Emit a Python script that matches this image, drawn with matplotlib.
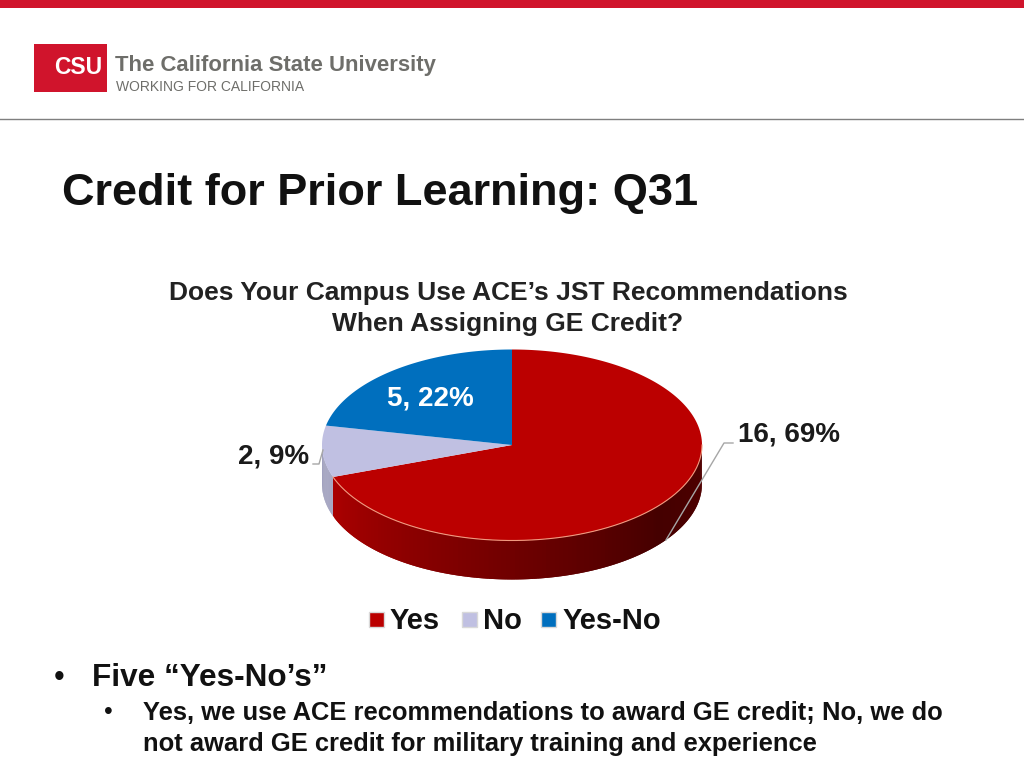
"""Credit for Prior Learning slide: Q31 pie chart on a CSU slide layout."""

import matplotlib
matplotlib.use("Agg")
import matplotlib.pyplot as plt
import numpy as np
from matplotlib.patches import Rectangle

categories = ["Yes", "No", "Yes-No"]
counts = [16, 2, 5]
percent_labels = ["69%", "9%", "22%"]

chart_title = ["Does Your Campus Use ACE’s JST Recommendations", "When Assigning GE Credit?"]
slide_title = "Credit for Prior Learning: Q31"
bullet_main = "Five “Yes-No’s”"
bullet_sub = [
    "Yes, we use ACE recommendations to award GE credit; No, we do",
    "not award GE credit for military training and experience",
]

TOP_COLORS = ["#bb0000", "#c0c0e2", "#006fbe"]
RED = "#d0142c"
GREY = "#6e6e6a"

# pie geometry in slide pixels
CX, CY = 512, 445
RX, RY = 190, 95.5
DEPTH = 39

plt.rcParams["font.family"] = ["Liberation Sans", "DejaVu Sans"]


def ellipse_xy(theta):
    """theta is clockwise from 12 o'clock, radians."""
    return CX + RX * np.sin(theta), CY - RY * np.cos(theta)


def side_color(deg):
    """Shade for the red wall: darkest right of the front, lighter to the left."""
    t = np.clip((deg - 130) / (250 - 130), 0, 1)
    if deg < 130:
        t = (130 - deg) / 40 * 0.12
    return (0.27 + 0.40 * t, 0, 0)


def draw_pie(ax):
    fractions = np.array(counts) / sum(counts)
    edges = np.concatenate([[0], np.cumsum(fractions)]) * 2 * np.pi

    # --- side wall, painted as thin overlapping strips so it can carry a gradient ---
    for i in range(len(counts)):
        start, stop = max(edges[i], np.pi / 2), min(edges[i + 1], 1.5 * np.pi)
        if stop <= start:
            continue
        steps = np.linspace(start, stop, 120)
        for a, b, c in zip(steps[:-2], steps[1:-1], steps[2:]):
            xa, ya = ellipse_xy(a)
            xc, yc = ellipse_xy(c)
            shade = side_color(np.degrees(b)) if i == 0 else (0.63, 0.63, 0.75)
            ax.fill([xa, xc, xc, xa], [ya, yc, yc + DEPTH, ya + DEPTH],
                    color=shade, lw=0, zorder=2)

    # --- top face ---
    for i, color in enumerate(TOP_COLORS):
        theta = np.linspace(edges[i], edges[i + 1], 200)
        x, y = ellipse_xy(theta)
        ax.fill(np.r_[CX, x], np.r_[CY, y], color=color, lw=0, zorder=3)

    # thin pale rim along the front of the red slice
    theta = np.linspace(np.pi / 2, edges[1], 200)
    x, y = ellipse_xy(theta)
    ax.plot(x, y, color="#f09a80", lw=0.8, zorder=4)

    # --- data labels ---
    ax.text(430, 399, f"{counts[2]}, {percent_labels[2]}", color="white", fontsize=20,
            fontweight="bold", ha="center", va="center", zorder=5)
    ax.text(789, 435, f"{counts[0]}, {percent_labels[0]}", color="#1a1a1a", fontsize=20,
            fontweight="bold", ha="center", va="center")
    ax.text(274, 457, f"{counts[1]}, {percent_labels[1]}", color="#1a1a1a", fontsize=20,
            fontweight="bold", ha="center", va="center")

    # leader lines
    ax.plot([733, 724, 666], [443, 443, 540], color="#a6a6a6", lw=1, zorder=5)
    ax.plot([313, 319, 323], [464, 464, 450], color="#a6a6a6", lw=1, zorder=5)


def draw_legend(ax):
    swatch_x = [369, 462, 541]
    text_x = [390, 483, 563]
    for sx, tx, name, color in zip(swatch_x, text_x, categories, TOP_COLORS):
        ax.add_patch(Rectangle((sx, 612), 15, 15, facecolor=color, edgecolor="#d9d9d9", lw=1))
        ax.text(tx, 621, name, fontsize=21, fontweight="bold", color="#111111",
                ha="left", va="center")


def draw_header(ax):
    ax.add_patch(Rectangle((0, 0), 1024, 8, facecolor=RED, lw=0))
    ax.plot([0, 1024], [119, 119], color="#7f7f7f", lw=1)

    # logo
    ax.add_patch(Rectangle((34, 44), 73, 48, facecolor=RED, lw=0))
    ax.text(102, 68, "CSU", color="white", fontsize=16.5, fontweight="bold",
            ha="right", va="center")
    ax.text(115, 66, "The California State University", color=GREY, fontsize=15.9,
            fontweight="bold", ha="left", va="center")
    ax.text(116, 87, "WORKING FOR CALIFORNIA", color=GREY, fontsize=10,
            ha="left", va="center")


def main():
    fig = plt.figure(figsize=(10.24, 7.68), dpi=100)
    ax = fig.add_axes([0, 0, 1, 1])
    ax.set_xlim(0, 1024)
    ax.set_ylim(768, 0)
    ax.axis("off")

    draw_header(ax)

    ax.text(62, 193, slide_title, fontsize=32.5, fontweight="bold", color="#111111",
            ha="left", va="center")
    ax.text(508, 293, chart_title[0], fontsize=19, fontweight="bold", color="#222222",
            ha="center", va="center")
    ax.text(508, 324, chart_title[1], fontsize=19, fontweight="bold", color="#222222",
            ha="center", va="center")

    draw_pie(ax)
    draw_legend(ax)

    # bullets
    ax.text(54, 678, "•", fontsize=22, color="#111111", ha="left", va="center")
    ax.text(92, 678, bullet_main, fontsize=22.7, fontweight="bold", color="#111111",
            ha="left", va="center")
    ax.text(104, 712, "•", fontsize=18, color="#111111", ha="left", va="center")
    ax.text(143, 713, bullet_sub[0], fontsize=18.35, fontweight="bold", color="#111111",
            ha="left", va="center")
    ax.text(143, 744, bullet_sub[1], fontsize=18.35, fontweight="bold", color="#111111",
            ha="left", va="center")

    fig.savefig("out.png", dpi=100, facecolor="white")
    plt.close(fig)


if __name__ == "__main__":
    main()
